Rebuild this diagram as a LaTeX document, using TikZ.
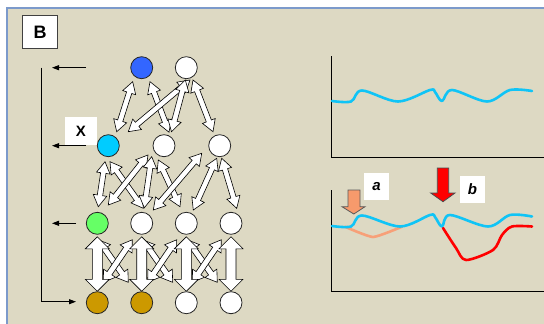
\documentclass[tikz,border=0pt]{standalone}
\usepackage{fontspec}
\setmainfont{Liberation Sans}
\usetikzlibrary{calc,arrows.meta}
\definecolor{bgc}{HTML}{DDD9C3}
\definecolor{framec}{HTML}{7C9ACB}
\definecolor{nblue}{HTML}{3366FF}
\definecolor{ncyan}{HTML}{00CCFF}
\definecolor{ngreen}{HTML}{66FF66}
\definecolor{ngold}{HTML}{CC9900}
\definecolor{cblue}{HTML}{10C4F6}
\definecolor{corange}{HTML}{F7A078}
\definecolor{carrow}{HTML}{F79A6C}
\tikzset{
  nd/.style={circle, draw=black!85, line width=0.8pt, minimum size=22pt, inner sep=0pt, fill=white},
  blockarr/.style={fill=white, draw=black, line width=0.6pt, line join=miter},
  ptr/.style={line width=0.9pt, -{Triangle[length=7pt,width=5pt]}},
  lbl/.style={fill=white, inner sep=0pt, font=\bfseries},
  curve/.style={line width=2.6pt, line cap=round, line join=round},
  axis/.style={line width=1pt}
}
\newcommand\barrow[5]{%
  \coordinate (ba) at (#1); \coordinate (bb) at (#2);
  \path[blockarr] (ba) -- ($(ba)!#5!(bb)!#4!90:(bb)$) -- ($(ba)!#5!(bb)!#3!90:(bb)$)
   -- ($(bb)!#5!(ba)!#3!-90:(ba)$) -- ($(bb)!#5!(ba)!#4!-90:(ba)$) -- (bb)
   -- ($(bb)!#5!(ba)!#4!90:(ba)$) -- ($(bb)!#5!(ba)!#3!90:(ba)$)
   -- ($(ba)!#5!(bb)!#3!-90:(bb)$) -- ($(ba)!#5!(bb)!#4!-90:(bb)$) -- cycle;}
\newcommand\thinarr[2]{\barrow{#1}{#2}{2.7pt}{6.8pt}{11.5pt}}
\newcommand\diagarr[2]{\barrow{#1}{#2}{2.9pt}{7.2pt}{11pt}}
\newcommand\vertarr[2]{\barrow{#1}{#2}{5pt}{12pt}{12pt}}
\begin{document}
\begin{tikzpicture}[x=1pt,y=-1pt]
\useasboundingbox (0,0) rectangle (544,324);
\clip (0,0) rectangle (544,324);
\fill[white] (0,0) rectangle (544,324);
\filldraw[fill=bgc, draw=framec, line width=2pt] (6.5,7.5) rectangle (570,340);

% label B
\node[lbl, draw=black!75, line width=0.8pt, minimum width=34.6pt, minimum height=32.6pt, font=\fontsize{18}{18}\selectfont\bfseries] (lblB) at (40,32) {B};

% node coordinates
\coordinate (b1) at (141.7,67.7);
\coordinate (w1) at (186.3,67.7);
\coordinate (c2a) at (108.3,145.7);
\coordinate (c2b) at (164,145.7);
\coordinate (c2c) at (219.7,145.7);
\coordinate (c3a) at (97.3,223.3);
\coordinate (c3b) at (141.7,223.3);
\coordinate (c3c) at (186.3,223.3);
\coordinate (c3d) at (231,223.3);
\coordinate (c4a) at (97.3,302.7);
\coordinate (c4b) at (141.7,302.7);
\coordinate (c4c) at (186.3,302.7);
\coordinate (c4d) at (231,302.7);

% row 1 -> row 2
\thinarr{$(b1)+(-9,14)$}{$(c2a)+(8.4,-14)$}
\thinarr{$(b1)+(8.3,14)$}{$(c2b)+(5,-13.5)$}
\thinarr{$(w1)+(3.7,12.3)$}{$(c2a)+(20,-14)$}
\thinarr{$(w1)+(-1,12.3)$}{$(c2b)+(7.5,-14)$}
\thinarr{$(w1)+(6.7,12.3)$}{$(c2c)+(-6.7,-14)$}

% row 2 -> row 3
\thinarr{$(c2a)+(-3.3,16)$}{$(c3a)+(1,-16.6)$}
\thinarr{$(c2a)+(1.7,16)$}{$(c3b)+(1.6,-15)$}
\thinarr{$(c2b)+(-16,9.3)$}{$(c3a)+(11,-18.3)$}
\thinarr{$(c2b)+(-12.3,11)$}{$(c3b)+(2.6,-15.5)$}
\thinarr{$(c2b)+(-5.7,14.3)$}{$(c3c)+(-6.3,-16.6)$}
\thinarr{$(c2c)+(-18,7.6)$}{$(c3b)+(11.6,-13.3)$}
\thinarr{$(c2c)+(-3,12.6)$}{$(c3c)+(7,-13.3)$}
\thinarr{$(c2c)+(2,12.6)$}{$(c3d)+(5.7,-15)$}

% row 3 -> row 4
\foreach \p in {c3a, c3b, c3c}{
  \diagarr{$(\p)+(1,16.5)$}{$(\p)+(31,59)$}
  \diagarr{$(\p)+(35,16.5)$}{$(\p)+(6,59)$}
}
\foreach \p in {c3a,c3b,c3c,c3d}{
  \vertarr{$(\p)+(0,13.5)$}{$(\p)+(0,68)$}
}

% nodes
\node[nd, fill=nblue] (n1a) at (b1) {};
\node[nd] (n1b) at (w1) {};
\node[nd, fill=ncyan] (n2a) at (c2a) {};
\node[nd] (n2b) at (c2b) {};
\node[nd] (n2c) at (c2c) {};
\node[nd, fill=ngreen] (n3a) at (c3a) {};
\node[nd] (n3b) at (c3b) {};
\node[nd] (n3c) at (c3c) {};
\node[nd] (n3d) at (c3d) {};
\node[nd, fill=ngold] (n4a) at (c4a) {};
\node[nd, fill=ngold] (n4b) at (c4b) {};
\node[nd] (n4c) at (c4c) {};
\node[nd] (n4d) at (c4d) {};

% X label
\node[lbl, minimum width=31.7pt, minimum height=27.7pt, font=\fontsize{15}{15}\selectfont\bfseries] (lblX) at (80.8,131.2) {X};

% left bracket and pointers
\coordinate (brT) at (41.3,67.7);
\coordinate (brB) at (41.3,301.7);
\coordinate (brE) at (76,301.7);
\draw[line width=0.9pt] (brT) -- (brB);
\draw[ptr] (brB) -- (brE);
\coordinate (p1s) at (86,67.7);  \coordinate (p1e) at (52,67.7);
\coordinate (p2s) at (86,145.7); \coordinate (p2e) at (52,145.7);
\coordinate (p3s) at (76,223.3); \coordinate (p3e) at (52,223.3);
\draw[ptr] (p1s) -- (p1e);
\draw[ptr] (p2s) -- (p2e);
\draw[ptr] (p3s) -- (p3e);

% upper plot
\coordinate (ax1o) at (331.7,157);
\draw[axis] (331.7,56) -- (ax1o) -- (545,157);
\draw[curve, cblue] plot[smooth, tension=0.55] coordinates {(332,101) (351,101.5) (362,90.5) (398,101.5) (430,90) (435,92) (442,101) (452,90) (487,101.5) (510,90) (532,91)};

% lower plot
\coordinate (ax2o) at (331.7,291);
\draw[axis] (331.7,190) -- (ax2o) -- (545,291);
\draw[curve, corange] plot[smooth, tension=0.3] coordinates {(345,226.7) (373,237) (402,226.7)};
\draw[curve, red] plot[smooth, tension=0.5] coordinates {(443,228) (456,248) (466,260) (493,250) (502,235) (512,226.5) (532,226.5)};
\draw[curve, cblue] plot[smooth, tension=0.55] coordinates {(332,226) (351,226.5) (362,215.5) (400,226.5) (430,215) (435,217) (442,226.5) (450,215) (488,226.5) (510,215) (532,216.5)};

% down arrows
\filldraw[fill=carrow, draw=black!65, line width=0.8pt] (348,190) -- (360,190) -- (360,206.7) -- (365,206.7) -- (353.8,214) -- (342,206.7) -- (348,206.7) -- cycle;
\filldraw[fill=red, draw=black!70, line width=0.8pt] (437.3,168) -- (448.7,168) -- (448.7,193) -- (455,193) -- (443,201.7) -- (430.7,193) -- (437.3,193) -- cycle;

% a, b labels
\node[lbl, minimum width=25pt, minimum height=27pt, font=\fontsize{15}{15}\selectfont\bfseries\itshape] (lbla) at (376.5,186.5) {a};
\node[lbl, minimum width=25pt, minimum height=27pt, font=\fontsize{15}{15}\selectfont\bfseries\itshape] (lblb) at (472.5,189.5) {b};
\end{tikzpicture}
\end{document}
